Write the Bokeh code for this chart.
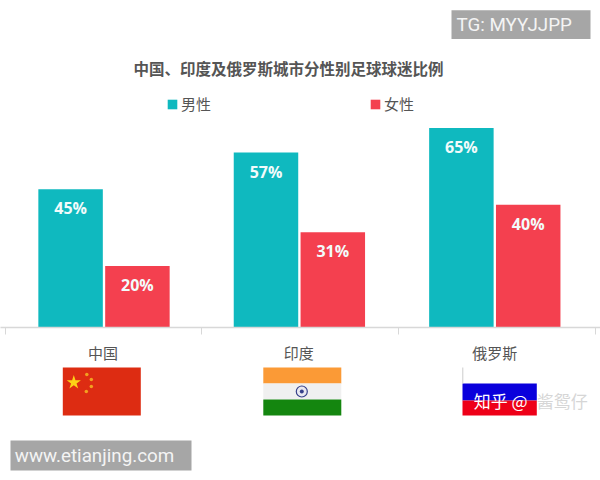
from bokeh.embed import file_html
from bokeh.resources import INLINE
from bokeh.plotting import figure
from bokeh.layouts import column
from bokeh.models import (ColumnDataSource, FixedTicker, Legend, LegendItem, Range1d)
from bokeh.core.properties import value
from bokeh.transform import dodge

title = "中国、印度及俄罗斯城市分性别足球球迷比例"
countries = ["中国", "印度", "俄罗斯"]
male = [45, 57, 65]
female = [20, 31, 40]
male_labels = ["45%", "57%", "65%"]
female_labels = ["20%", "31%", "40%"]
series_names = ["男性", "女性"]

TEAL = "#0fb9bf"
RED = "#f4404f"
GREY = "#555555"
CJK = "Noto Sans CJK SC"

xpos = [0.5, 1.5, 2.5]
label_ticks = [0.495, 1.497, 2.5]
boundary_ticks = [-0.005, 1.0015, 2.0097, 3.013]
src = ColumnDataSource(dict(x=xpos, male=male, female=female, ml=male_labels, fl=female_labels))

# header strip: title and watermark
h = figure(width=600, height=78, output_backend="svg", toolbar_location=None,
           x_range=Range1d(0, 600), y_range=Range1d(56, 0), min_border=0,
           outline_line_color=None, title_location="below")
h.axis.visible = False
h.grid.visible = False
h.title.text = title
h.title.align = "left"
h.title.offset = 133
h.title.text_font = CJK
h.title.text_font_size = "15.5px"
h.title.text_font_style = "bold"
h.title.text_color = GREY
h.title.standoff = 0
h.quad(left=[451], right=[590], top=[10], bottom=[40], color="#a6a6a6", line_color=None)
h.text(x=[456], y=[25], text=["TG: MYYJJPP"], text_color="#f4f4f4", text_font=value("Roboto"),
       text_font_size="18.8px", text_baseline="middle")

PX_PER_PCT = 3.07
FRAME_H = 249
UNIT = 195.4
X0 = -5.8 / UNIT
p = figure(width=600, height=287, output_backend="svg", toolbar_location=None,
           x_range=Range1d(X0, X0 + 600 / UNIT), y_range=Range1d(0, FRAME_H / PX_PER_PCT),
           min_border=0, min_border_bottom=38, outline_line_color=None, background_fill_color="white")
p.grid.visible = False
p.yaxis.visible = False

ax = p.xaxis[0]
ax.ticker = FixedTicker(ticks=label_ticks, minor_ticks=boundary_ticks)
ax.major_label_overrides = {x: c for x, c in zip(label_ticks, countries)}
ax.major_tick_line_color = None
ax.major_tick_in = 0
ax.major_tick_out = 0
ax.minor_tick_line_color = "#d8d8d8"
ax.minor_tick_in = 0
ax.minor_tick_out = 7
ax.axis_line_color = "#d8d8d8"
ax.axis_line_width = 1.5
ax.major_label_standoff = 7
ax.major_label_text_font = CJK
ax.major_label_text_font_size = "15px"
ax.major_label_text_color = GREY

W = 0.33
OFF = 0.171
r1 = p.vbar(x=dodge("x", -OFF), top="male", width=W, bottom=0, source=src, color=TEAL, line_color=None)
r2 = p.vbar(x=dodge("x", OFF), top="female", width=W, bottom=0, source=src, color=RED, line_color=None)
for col, off, lab in (("male", -OFF, "ml"), ("female", OFF, "fl")):
    p.text(x=dodge("x", off), y=col, text=lab, source=src, y_offset=19,
           text_align="center", text_baseline="middle", text_color="#f2fbfb",
           text_font=value("Open Sans"), text_font_style="bold", text_font_size="16px")

legend = Legend(items=[LegendItem(label=series_names[0], renderers=[r1]),
                       LegendItem(label=series_names[1], renderers=[r2])],
                orientation="horizontal", location=(166, 213), spacing=158,
                glyph_width=12, glyph_height=12, label_standoff=3, padding=0, margin=0,
                border_line_color=None, background_fill_alpha=0,
                label_text_font=CJK, label_text_font_size="15px", label_text_color=GREY)
p.add_layout(legend, "center")

# flags and lower watermark, positioned in a px-like coordinate system
q = figure(width=600, height=115, output_backend="svg", toolbar_location=None,
           x_range=Range1d(0.7, 600.7), y_range=Range1d(480, 365), min_border=0,
           outline_line_color=None)
q.axis.visible = False
q.grid.visible = False

flag_left = [63, 263.5, 263.5, 263.5, 462.7, 462.7, 462.7]
flag_right = [141, 341.5, 341.5, 341.5, 537, 537, 537]
flag_top = [367, 367, 383, 399, 367, 383, 400]
flag_bottom = [415, 383, 399, 415, 383, 400, 415]
flag_color = ["#dd2c12", "#fb9a36", "#f0f0f0", "#14860f", "#ffffff", "#0a00dc", "#ee0018"]
q.quad(left=flag_left, right=flag_right, top=flag_top, bottom=flag_bottom, color=flag_color, line_color=None)
q.segment(x0=[463], x1=[463], y0=[367], y1=[383], line_color="#cccccc", line_width=1)
q.scatter(x=[74], y=[382], marker="star", size=15, color="#fcd116", line_color=None)
q.scatter(x=[87, 91.5, 91.5, 86.5], y=[374, 379, 386, 391], marker="circle", size=3.5, color="#f2a020", line_color=None)
q.scatter(x=[302], y=[391], marker="circle", size=11, fill_color="#e8e8f0", line_color="#36408a", line_width=1.2)
q.scatter(x=[302], y=[391], marker="circle", size=4, color="#36408a", line_color=None)

q.text(x=[474], y=[400], text=["知乎 @"], text_color="#ffffff", text_font=value(CJK), text_font_size="17px",
       text_baseline="middle")
q.text(x=[537], y=[400], text=["酱鸳仔"], text_color="#d6d6d6", text_font=value(CJK), text_font_size="17px",
       text_baseline="middle")

q.quad(left=[10.7], right=[191.7], top=[440], bottom=[470], color="#a6a6a6", line_color=None)
q.text(x=[15], y=[455], text=["www.etianjing.com"], text_color="#f4f4f4", text_font=value("Roboto"),
       text_font_size="18.8px", text_baseline="middle")

page = column(h, p, q, spacing=0)
open("out.html", "w").write(file_html(page, INLINE))
